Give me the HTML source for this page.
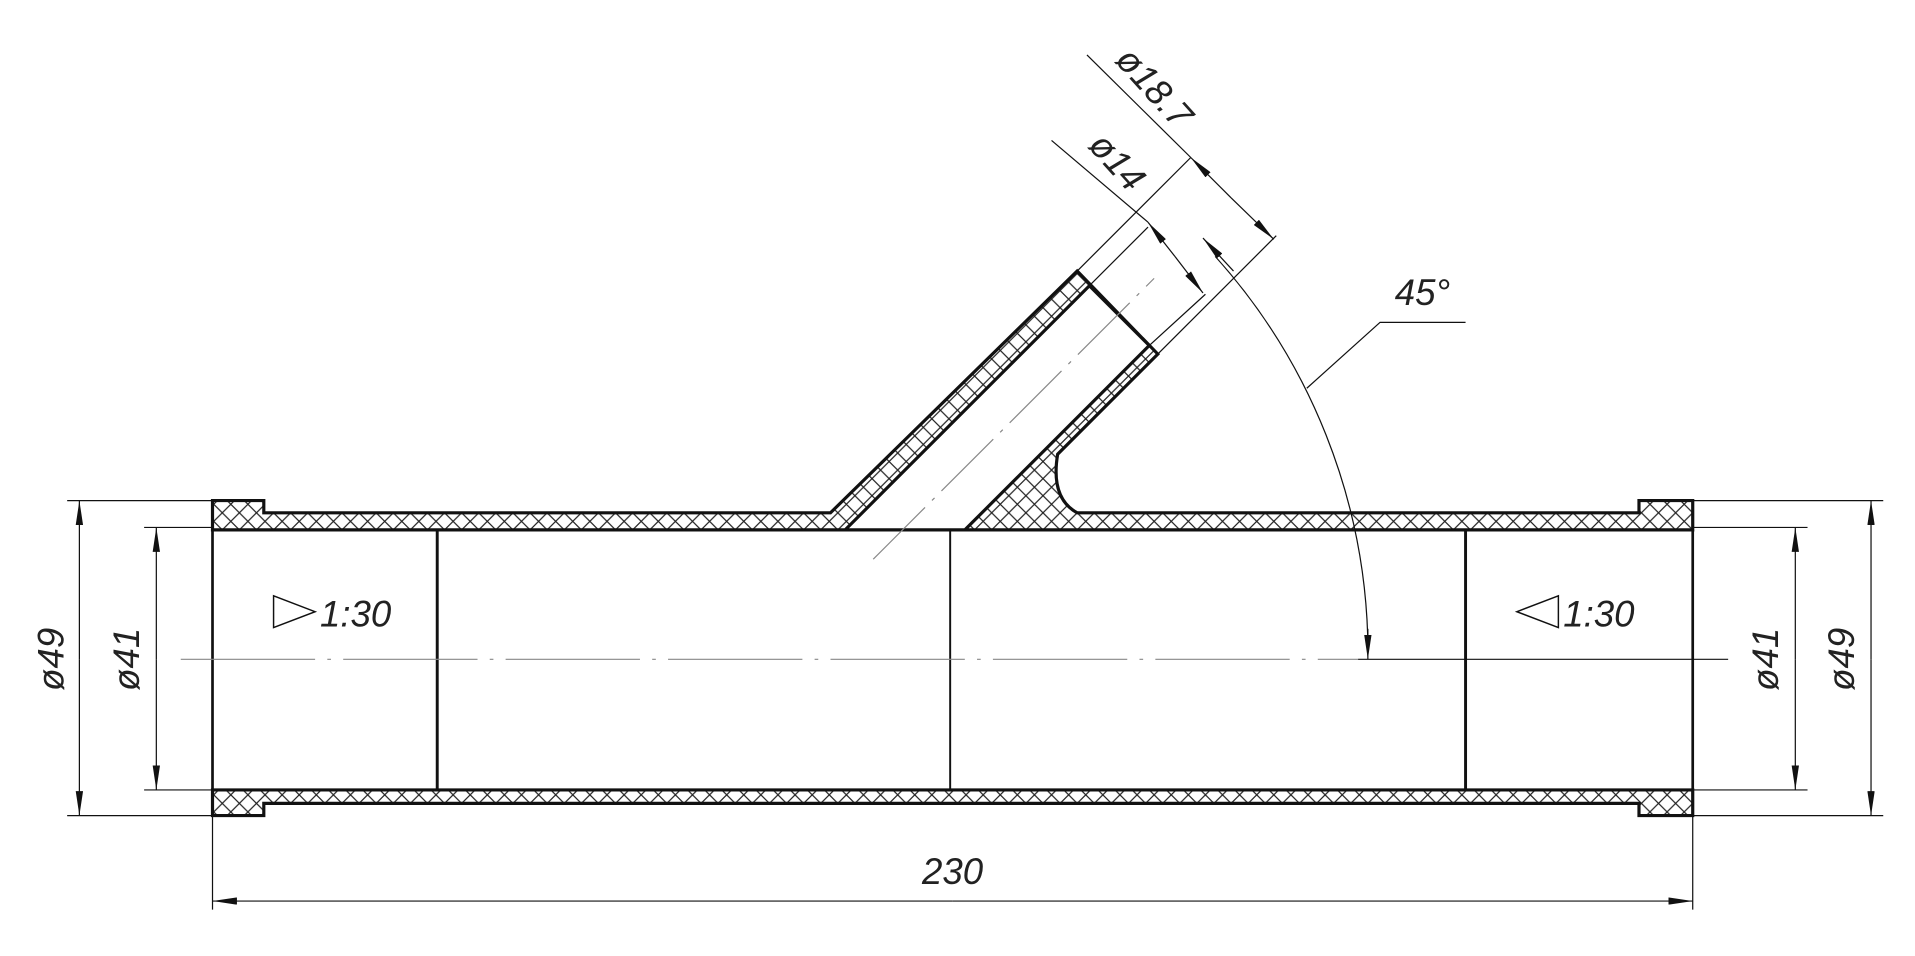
<!DOCTYPE html>
<html><head><meta charset="utf-8"><style>html,body{margin:0;padding:0;background:#fff}svg{display:block}</style></head><body>
<svg width="1915" height="956" viewBox="0 0 1568 783" preserveAspectRatio="none" xmlns="http://www.w3.org/2000/svg">
<defs>
<pattern id="h" width="14" height="14" patternUnits="userSpaceOnUse">
<path d="M0,0L14,14M14,0L0,14" stroke="#222" stroke-width="1"/>
</pattern>
<marker id="a" viewBox="0 0 20 6" refX="20" refY="3" markerWidth="20" markerHeight="6" orient="auto" markerUnits="userSpaceOnUse"><path d="M0,0L20,3L0,6Z" fill="#111"/></marker>
<marker id="b" viewBox="0 0 20 6" refX="0" refY="3" markerWidth="20" markerHeight="6" orient="auto" markerUnits="userSpaceOnUse"><path d="M20,0L0,3L20,6Z" fill="#111"/></marker>
</defs>
<g fill="none" stroke="#111">
<path fill-rule="evenodd" fill="url(#h)" stroke-width="2.6" d="M174,410L216,410L216,420L680,420L882,222L948,290L866,372Q860,408 882,420L1342,420L1342,410L1386,410L1386,434L174,434Z M692,434L892,234L941,283L790,434Z"/>
<path fill="url(#h)" stroke-width="2.6" d="M174,647L1386,647L1386,668L1342,668L1342,658L216,658L216,668L174,668Z"/>
<line x1="174" y1="434" x2="174" y2="647" stroke-width="2.2"/>
<line x1="1386" y1="434" x2="1386" y2="647" stroke-width="2.2"/>
<line x1="358" y1="434" x2="358" y2="647" stroke-width="2.4"/>
<line x1="1200" y1="434" x2="1200" y2="647" stroke-width="2.4"/>
<line x1="778" y1="434" x2="778" y2="647" stroke-width="1.6"/>
<line x1="148" y1="540" x2="1112" y2="540" stroke="#888" stroke-width="1" stroke-dasharray="110,10,3,10"/>
<line x1="1112" y1="540" x2="1415" y2="540" stroke-width="1"/>
<line x1="715" y1="458" x2="945" y2="228" stroke="#888" stroke-width="1" stroke-dasharray="60,8,3,8"/>
<path stroke-width="1" d="M55,410H174M55,668H174M118,432H174M118,647H174M1386,410H1542M1386,668H1542M1386,432H1480M1386,647H1480M174,668V745M1386,668V745"/>
<line x1="65" y1="540" x2="65" y2="410" stroke-width="1" marker-end="url(#a)"/>
<line x1="65" y1="540" x2="65" y2="668" stroke-width="1" marker-end="url(#a)"/>
<line x1="128" y1="540" x2="128" y2="432" stroke-width="1" marker-end="url(#a)"/>
<line x1="128" y1="540" x2="128" y2="647" stroke-width="1" marker-end="url(#a)"/>
<line x1="1532" y1="540" x2="1532" y2="410" stroke-width="1" marker-end="url(#a)"/>
<line x1="1532" y1="540" x2="1532" y2="668" stroke-width="1" marker-end="url(#a)"/>
<line x1="1470" y1="540" x2="1470" y2="432" stroke-width="1" marker-end="url(#a)"/>
<line x1="1470" y1="540" x2="1470" y2="647" stroke-width="1" marker-end="url(#a)"/>
<line x1="780" y1="738" x2="174" y2="738" stroke-width="1" marker-end="url(#a)"/>
<line x1="780" y1="738" x2="1386" y2="738" stroke-width="1" marker-end="url(#a)"/>
<path stroke-width="1.2" d="M224,488L258,501L224,514Z"/>
<path stroke-width="1.2" d="M1276,488L1242,501L1276,514Z"/>
<path stroke-width="1" d="M882,222L975,129M948,290L1045,193M892,234L940,186M941,283L987,241"/>
<line x1="890" y1="45" x2="975" y2="129" stroke-width="1"/>
<line x1="975" y1="129" x2="1008" y2="162" stroke-width="1" marker-start="url(#b)"/>
<line x1="1008" y1="162" x2="1043" y2="196" stroke-width="1" marker-end="url(#a)"/>
<line x1="861" y1="115" x2="940" y2="182" stroke-width="1"/>
<line x1="940" y1="182" x2="962" y2="210" stroke-width="1" marker-start="url(#b)"/>
<line x1="962" y1="210" x2="985" y2="240" stroke-width="1" marker-end="url(#a)"/>
<line x1="985" y1="195" x2="1010" y2="222" stroke-width="1" marker-start="url(#b)"/>
<path stroke-width="1" d="M995,210A487,487 0 0 1 1120,525" />
<line x1="1120" y1="515" x2="1120" y2="540" stroke-width="1" marker-end="url(#a)"/>
<path stroke-width="1" d="M1070,318L1130,264H1200"/>
</g>
<g font-family="Liberation Sans, sans-serif" font-style="italic" fill="#222" font-size="30">
<text transform="translate(52,540) rotate(-90)" text-anchor="middle">ø49</text>
<text transform="translate(114,540) rotate(-90)" text-anchor="middle">ø41</text>
<text transform="translate(1456,540) rotate(-90)" text-anchor="middle">ø41</text>
<text transform="translate(1518,540) rotate(-90)" text-anchor="middle">ø49</text>
<text x="780" y="724" text-anchor="middle">230</text>
<text x="262" y="513">1:30</text>
<text x="1280" y="513">1:30</text>
<text x="1142" y="250">45°</text>
<text transform="translate(912,50) rotate(48)">ø18.7</text>
<text transform="translate(890,120) rotate(48)">ø14</text>
</g>
</svg>
</body></html>
